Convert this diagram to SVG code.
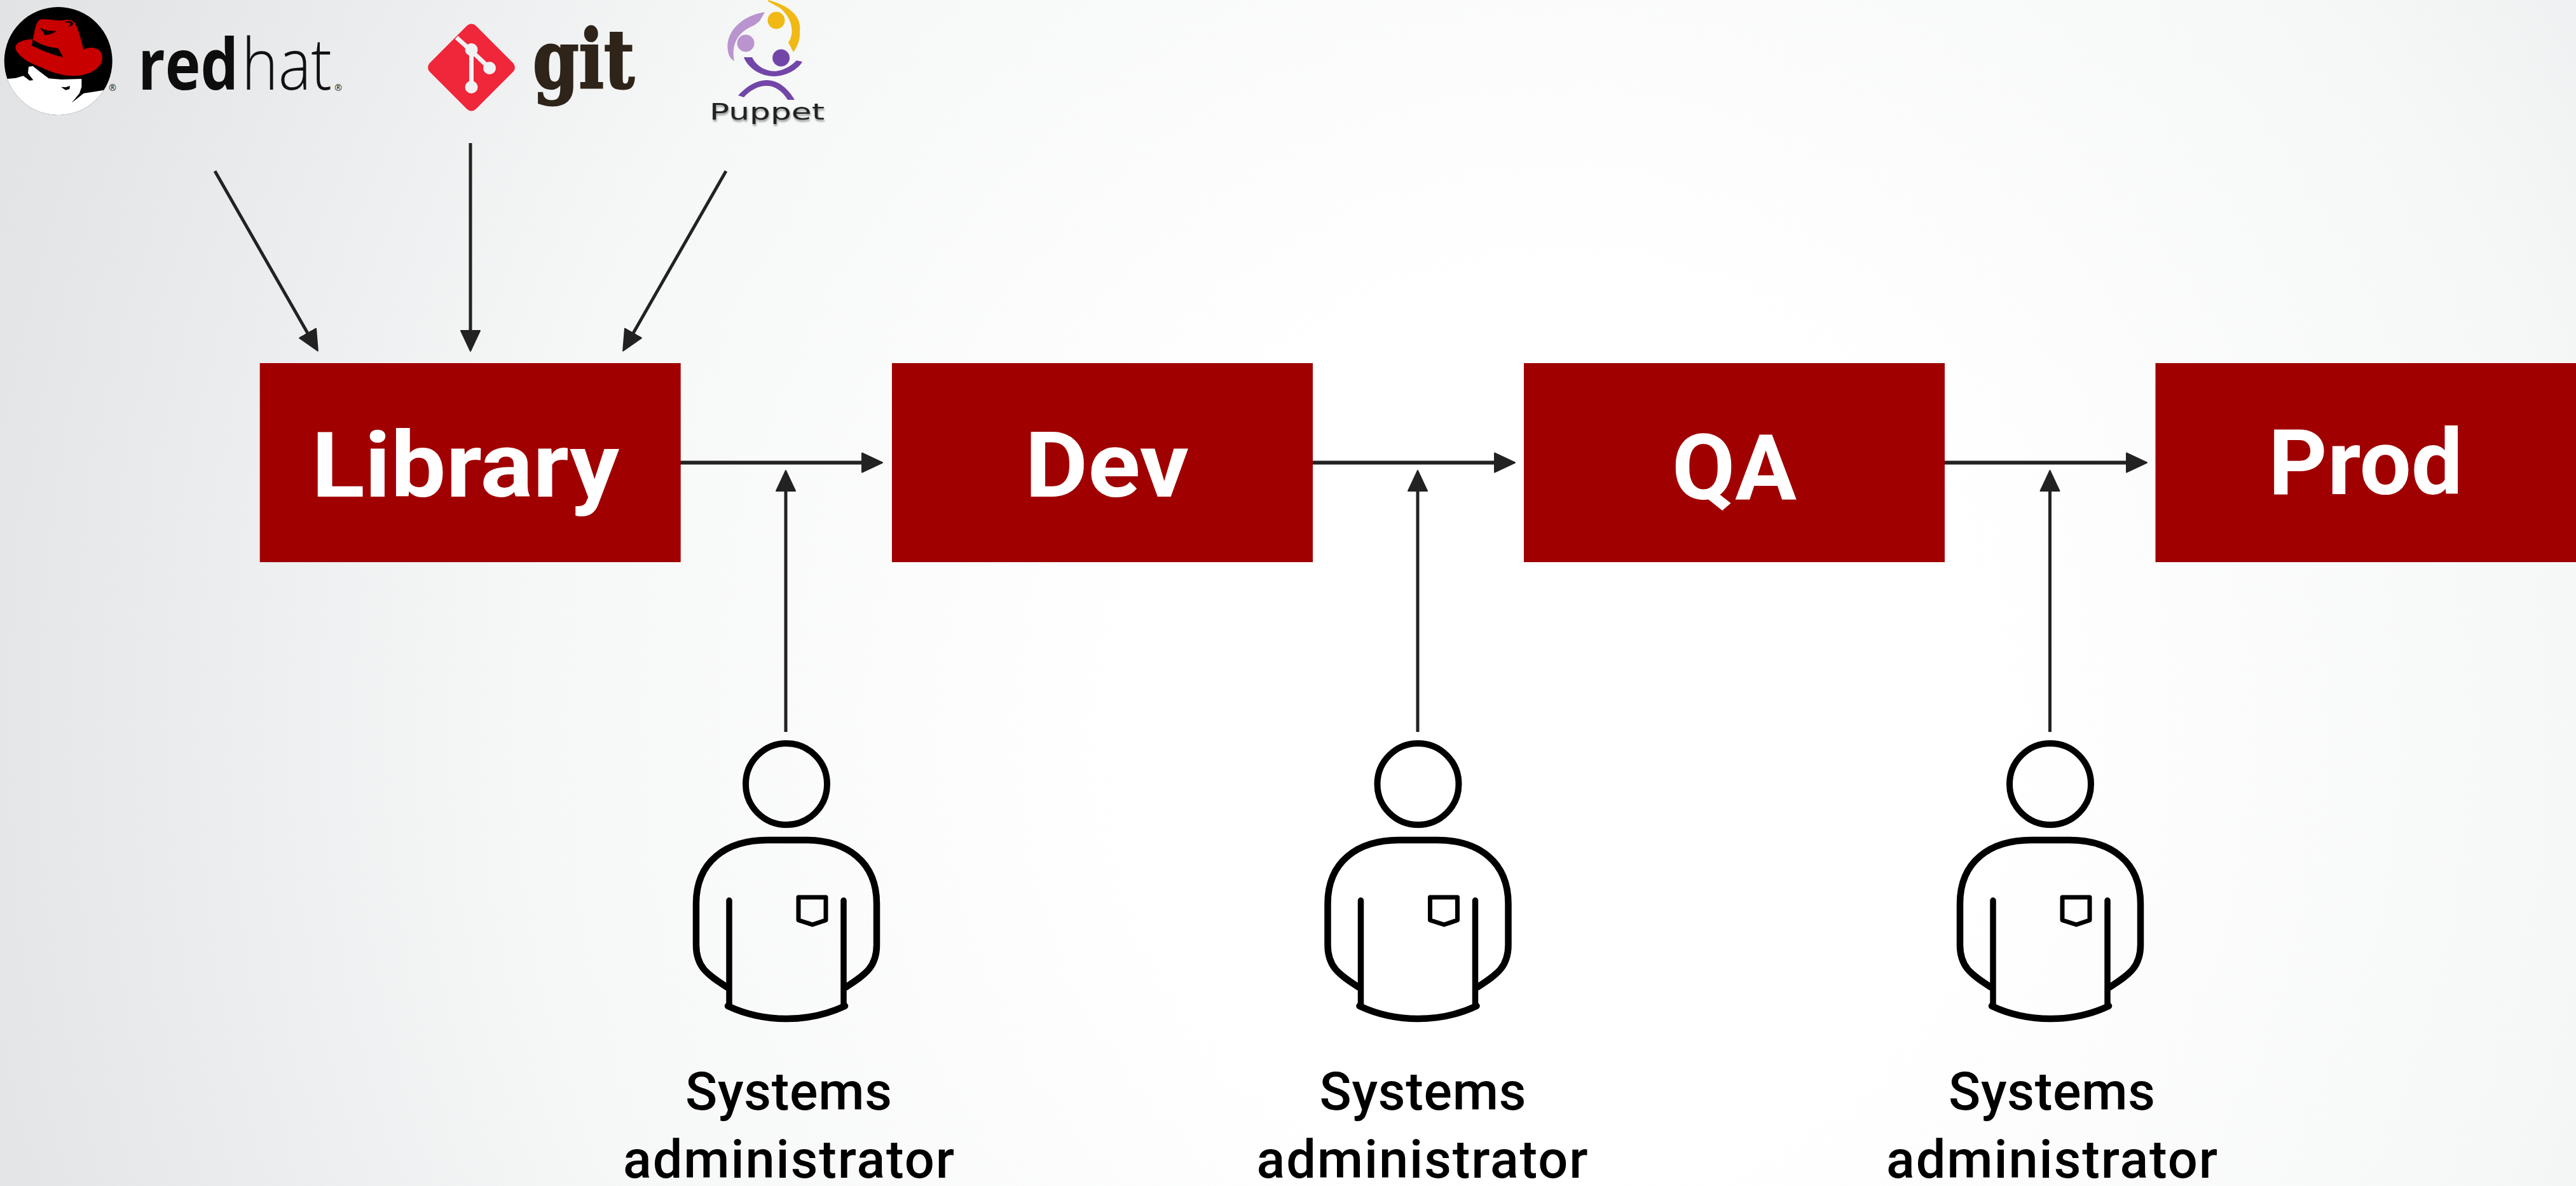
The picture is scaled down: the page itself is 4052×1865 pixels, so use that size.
<svg xmlns="http://www.w3.org/2000/svg" width="4052" height="1865" viewBox="0 0 4052 1865">
<style>
.box{fill:#a00000}
.boxt{font-family:"Roboto","Liberation Sans",sans-serif;font-weight:700;font-size:143px;fill:#fff}
.lbl{font-family:"Roboto","Liberation Sans",sans-serif;font-weight:500;font-size:83px;fill:#000}
.p{fill:none;stroke:#000;stroke-linecap:round;stroke-linejoin:round}
.c{fill:none;stroke:#222;stroke-width:5}
.c2{fill:none;stroke:#222;stroke-width:6}
.reg{font-family:"Open Sans","Liberation Sans",sans-serif;font-size:14px;fill:#222}
</style>
<defs>
<radialGradient id="bg" gradientUnits="userSpaceOnUse" cx="0" cy="0" r="1" gradientTransform="translate(2450 1150) scale(2700 2800)">
<stop offset="0.25" stop-color="#ffffff"/><stop offset="0.6" stop-color="#f6f7f7"/><stop offset="0.93" stop-color="#e4e5e7"/><stop offset="1" stop-color="#e2e3e5"/>
</radialGradient>
<marker id="ah" markerUnits="userSpaceOnUse" markerWidth="36" markerHeight="36" refX="1" refY="18" orient="auto">
<path d="M1 3 L33 18 L1 33Z" fill="#222" stroke="#222" stroke-width="2" stroke-linejoin="round"/>
</marker>
<clipPath id="hatclip"><circle cx="91.7" cy="96" r="85"/></clipPath>
<filter id="ps" x="-10%" y="-30%" width="120%" height="170%"><feDropShadow dx="1" dy="3" stdDeviation="1.5" flood-color="#000" flood-opacity=".4"/></filter>
<g id="person">
<circle cx="0" cy="-4" r="64" class="p" stroke-width="10"/>
<path class="p" stroke-width="10.5" d="M-94 1552C-125 1532-142 1520-142 1486V1421C-142 1355-95 1321-30 1321H30C95 1321 142 1355 142 1421V1486C142 1520 125 1532 94 1552" transform="translate(0 -1237)"/>
<path class="p" stroke-width="9.5" d="M-90 1416V1582M90 1416V1582" transform="translate(0 -1237)"/>
<path class="p" stroke-width="10.5" d="M-92 1582C-60 1597-30 1602 0 1602S60 1597 92 1582" transform="translate(0 -1237)"/>
<path class="p" stroke-width="7" d="M19 1411H62V1447L41 1454L19 1447Z" transform="translate(0 -1237)"/>
</g>
</defs>
<rect id="background" width="4052" height="1865" fill="url(#bg)"/>

<g id="logo-redhat">
<circle cx="91.7" cy="96" r="85" fill="#000"/>
<g clip-path="url(#hatclip)"><g transform="scale(.33333)">
<path fill="#fff" d="M0 370L35 372L75 368L110 358L140 380L157 378L132 345L135 315L155 312L190 340L230 370L290 375L385 372L385 410L375 440L338 485L395 440L430 435L490 425L560 400V600H0Z"/>
<path fill="#000" d="M288 410L310 412L330 405L328 420L310 425Z"/>
<path fill="#c80000" d="M75 215C85 195 120 185 155 185C165 150 165 105 190 92C225 88 260 98 290 97C315 90 345 95 355 110C375 150 385 200 395 235C415 222 445 222 465 235C485 250 490 285 470 310C445 340 400 358 350 358C290 358 230 335 200 320C160 305 110 285 85 250C75 238 70 225 75 215Z"/>
<path fill="#000" d="M155 185C180 205 215 220 275 228L298 270C260 262 200 240 150 215ZM190 130C205 142 235 148 268 146C250 158 225 165 210 165C205 150 195 145 190 130ZM300 105C320 96 345 100 347 113C340 122 330 126 320 126C330 122 337 115 330 109C320 105 310 105 300 105Z"/>
</g></g>
<text class="reg" x="177" y="143" text-anchor="middle">®</text>
<text x="217" y="141" font-family="'Open Sans','Liberation Sans',sans-serif" font-size="112" font-weight="700" fill="#0d0d0d" textLength="158" lengthAdjust="spacingAndGlyphs">red</text>
<text x="380" y="141" font-family="'Open Sans','Liberation Sans',sans-serif" font-size="112" font-weight="300" fill="#111" textLength="142" lengthAdjust="spacingAndGlyphs">hat</text>
<text class="reg" x="532" y="143" text-anchor="middle">®</text>
</g>

<g id="logo-git">
<rect x="690.2" y="54.7" width="102.6" height="102.6" rx="10" fill="#f0263a" transform="rotate(45 741.5 106)"/>
<path d="M718 59L741.5 80V137M741.5 80L770 107" fill="none" stroke="#f1f2f3" stroke-width="7"/>
<circle cx="741.5" cy="78" r="10" fill="#f1f2f3"/><circle cx="770" cy="107" r="10" fill="#f1f2f3"/><circle cx="741.5" cy="137" r="10" fill="#f1f2f3"/>
<text x="838" y="138" font-family="'DejaVu Serif',serif" font-weight="700" font-size="128" fill="#2f2419" stroke="#2f2419" stroke-width="3" textLength="160" lengthAdjust="spacingAndGlyphs">git</text>
</g>

<g id="logo-puppet">
<path fill="#f0b914" d="M1208 0C1240 8 1262 25 1258 50C1259 62 1254 74 1248 82L1240 67C1249 55 1249 30 1226 12L1208 2Z"/>
<path fill="#b994cf" d="M1203 19C1168 24 1140 50 1145 80C1146 88 1150 93 1155 96C1150 70 1160 50 1186 40L1195 33Z"/>
<path fill="#7246a8" d="M1170 90H1183C1190 105 1205 112 1220 112C1235 110 1245 103 1253 95L1262 97C1255 110 1235 120 1217 120C1195 120 1175 105 1170 90Z"/>
<path fill="#7246a8" d="M1161 150C1175 135 1190 126 1206 126C1225 126 1240 140 1250 157H1239C1230 142 1218 135 1206 135C1192 135 1180 142 1170 153Z"/>
<circle cx="1221" cy="32" r="13.5" fill="#f0b914"/><circle cx="1173" cy="68" r="13.5" fill="#b994cf"/><circle cx="1228.6" cy="91" r="13.5" fill="#7246a8"/>
<text x="1116" y="188" font-family="'DejaVu Sans',sans-serif" font-size="35" fill="#222" textLength="181" lengthAdjust="spacingAndGlyphs" filter="url(#ps)">Puppet</text>
</g>

<g id="connectors">
<path class="c" d="M338 269L484 524" marker-end="url(#ah)"/>
<path class="c" d="M740 225V520" marker-end="url(#ah)"/>
<path class="c" d="M1142 269L996 524" marker-end="url(#ah)"/>
<path class="c2" d="M1070 727.5H1356" marker-end="url(#ah)"/>
<path class="c2" d="M2065 727.5H2351" marker-end="url(#ah)"/>
<path class="c2" d="M3058 727.5H3345" marker-end="url(#ah)"/>
<path class="c" d="M1236 1151V772" marker-end="url(#ah)"/>
<path class="c" d="M2230 1151V772" marker-end="url(#ah)"/>
<path class="c" d="M3224.5 1151V772" marker-end="url(#ah)"/>
</g>

<g id="library"><rect class="box" x="408.7" y="571" width="662" height="313"/><text class="boxt" x="490" y="781" textLength="484" lengthAdjust="spacingAndGlyphs">Library</text></g>
<g id="dev"><rect class="box" x="1403" y="571" width="662" height="313"/><text class="boxt" x="1612" y="781" textLength="258" lengthAdjust="spacingAndGlyphs">Dev</text></g>
<g id="qa"><rect class="box" x="2397" y="571" width="662" height="313"/><text class="boxt" x="2630" y="785" textLength="196" lengthAdjust="spacingAndGlyphs">QA</text></g>
<g id="prod"><rect class="box" x="3390.5" y="571" width="662" height="313"/><text class="boxt" x="3568" y="777" textLength="306" lengthAdjust="spacingAndGlyphs">Prod</text></g>

<g id="sysadmin-1"><use href="#person" x="1237" y="1237"/><text class="lbl" x="1078" y="1745" textLength="325">Systems</text><text class="lbl" x="980" y="1852" textLength="521">administrator</text></g>
<g id="sysadmin-2"><use href="#person" x="2230.5" y="1237"/><text class="lbl" x="2075.5" y="1745" textLength="325">Systems</text><text class="lbl" x="1976.5" y="1852" textLength="521">administrator</text></g>
<g id="sysadmin-3"><use href="#person" x="3225" y="1237"/><text class="lbl" x="3065" y="1745" textLength="325">Systems</text><text class="lbl" x="2967" y="1852" textLength="521">administrator</text></g>
</svg>
